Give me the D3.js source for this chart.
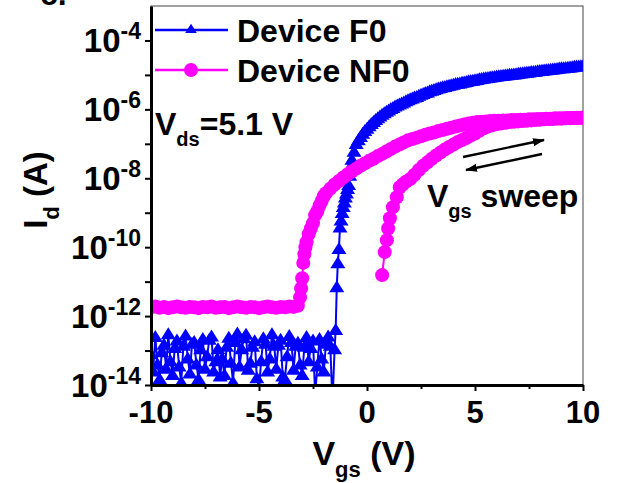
<!DOCTYPE html>
<html>
<head>
<meta charset="utf-8">
<script src="https://cdn.jsdelivr.net/npm/d3@7"></script>
<style>
  body { margin: 0; background: #fff; }
  svg { display: block; font-family: "Liberation Sans", Arial, sans-serif; font-weight: bold; }
</style>
</head>
<body>
<svg id="chart" width="628" height="483"></svg>
<script>
// ---- Transfer curves, Vds = 5.1 V ----
// Device F0 : gate voltage (V) and drain current (A)
const vgsF0 = [
  -10, -9.9, -9.8, -9.7, -9.6, -9.5, -9.4, -9.3, -9.2, -9.1,
  -9, -8.9, -8.8, -8.7, -8.6, -8.5, -8.4, -8.3, -8.2, -8.1,
  -8, -7.9, -7.8, -7.7, -7.6, -7.5, -7.4, -7.3, -7.2, -7.1,
  -7, -6.9, -6.8, -6.7, -6.6, -6.5, -6.4, -6.3, -6.2, -6.1,
  -6, -5.9, -5.8, -5.7, -5.6, -5.5, -5.4, -5.3, -5.2, -5.1,
  -5, -4.9, -4.8, -4.7, -4.6, -4.5, -4.4, -4.3, -4.2, -4.1,
  -4, -3.9, -3.8, -3.7, -3.6, -3.5, -3.4, -3.3, -3.2, -3.1,
  -3, -2.9, -2.8, -2.7, -2.6, -2.5, -2.4, -2.3, -2.2, -2.1,
  -2, -1.9, -1.8, -1.7, -1.6, -1.5,
  -1.45, -1.4, -1.35, -1.3, -1.25, -1.2, -1.15, -1.1, -1.05, -1, -0.95, -0.9, -0.85, -0.8,
  -0.75, -0.7, -0.6, -0.5, -0.4, -0.3, -0.2, -0.1,
  0, 0.1, 0.2, 0.3, 0.4, 0.5, 0.6, 0.7, 0.8, 0.9, 1, 1.1, 1.2, 1.3, 1.4, 1.5, 1.6, 1.7, 1.8, 1.9,
  2, 2.1, 2.2, 2.3, 2.4, 2.5, 2.6, 2.7, 2.8, 2.9, 3, 3.1, 3.2, 3.3, 3.4, 3.5, 3.6, 3.7, 3.8, 3.9,
  4, 4.1, 4.2, 4.3, 4.4, 4.5, 4.6, 4.7, 4.8, 4.9, 5, 5.1, 5.2, 5.3, 5.4, 5.5, 5.6, 5.7, 5.8, 5.9,
  6, 6.1, 6.2, 6.3, 6.4, 6.5, 6.6, 6.7, 6.8, 6.9, 7, 7.1, 7.2, 7.3, 7.4, 7.5, 7.6, 7.7, 7.8, 7.9,
  8, 8.1, 8.2, 8.3, 8.4, 8.5, 8.6, 8.7, 8.8, 8.9, 9, 9.1, 9.2, 9.3, 9.4, 9.5, 9.6, 9.7, 9.8, 9.9, 10
];
const idF0 = [
  8e-14, 2.5e-14, 2.5e-13, 4e-14, 1.5e-14, 9e-14, 1.5e-13, 3e-14, 3e-13, 5e-14,
  2e-14, 1.2e-13, 2e-13, 3.5e-14, 1.2e-14, 1.4e-13, 2.8e-13, 6e-14, 2.2e-14, 1.6e-13,
  1.8e-13, 4e-14, 1.5e-14, 1.1e-13, 2.2e-13, 3e-14, 7e-14, 2.1e-13, 2.6e-13, 2.5e-14,
  5e-14, 1.1e-13, 1.8e-14, 6e-14, 2e-14, 1.3e-13, 2.4e-13, 4.5e-14, 1.2e-14, 1.8e-13,
  3.2e-13, 3.5e-14, 1.1e-13, 2.3e-13, 2.9e-13, 2.8e-14, 4.5e-14, 1.3e-13, 1.9e-13, 1.6e-14,
  8e-15, 5e-14, 2.3e-13, 1.6e-13, 2.5e-14, 6e-14, 3e-13, 1.4e-13, 3e-14, 1.5e-13,
  2.1e-13, 1.8e-14, 1.5e-14, 7e-14, 2.7e-13, 1.8e-13, 2.8e-14, 1.4e-13, 1.7e-13, 4e-14,
  2e-14, 1.3e-13, 2.5e-13, 5e-14, 1.2e-13, 2e-13, 5e-15, 3.5e-14, 2.2e-13, 6e-14,
  2.5e-14, 1.6e-13, 2.6e-13, 1.4e-13, 3e-15, 1.1e-13,
  4e-13, 7e-12, 3.5e-11, 9e-11, 3.8e-10, 6e-10, 1e-9, 1.5e-9, 2e-9, 2.8e-9, 3.7e-9, 5e-9, 6.5e-9, 1.2e-8,
  2.2e-8, 3.5e-8, 6e-8, 1e-7, 1.3e-7, 1.6e-7, 2e-7, 2.4e-7,
  2.8e-7, 3.3e-7, 3.8e-7, 4.4e-7, 5e-7, 5.6e-7, 6.3e-7, 7.1e-7, 7.9e-7, 8.7e-7, 9.5e-7, 1.05e-6, 1.12e-6, 1.23e-6, 1.32e-6, 1.41e-6, 1.51e-6, 1.62e-6, 1.74e-6, 1.86e-6,
  2e-6, 2.09e-6, 2.24e-6, 2.34e-6, 2.51e-6, 2.69e-6, 2.82e-6, 3.02e-6, 3.16e-6, 3.39e-6, 3.55e-6, 3.72e-6, 3.89e-6, 4.07e-6, 4.27e-6, 4.47e-6, 4.57e-6, 4.79e-6, 4.9e-6, 5.13e-6,
  5.25e-6, 5.5e-6, 5.62e-6, 5.75e-6, 6.03e-6, 6.17e-6, 6.31e-6, 6.61e-6, 6.76e-6, 6.92e-6, 7.08e-6, 7.24e-6, 7.59e-6, 7.76e-6, 7.94e-6, 8.13e-6, 8.32e-6, 8.51e-6, 8.71e-6, 8.91e-6,
  9.12e-6, 9.33e-6, 9.4e-6, 9.55e-6, 9.77e-6, 1e-5, 1.02e-5, 1.03e-5, 1.05e-5, 1.07e-5, 1.1e-5, 1.12e-5, 1.13e-5, 1.15e-5, 1.17e-5, 1.2e-5, 1.23e-5, 1.24e-5, 1.26e-5, 1.29e-5,
  1.32e-5, 1.35e-5, 1.36e-5, 1.38e-5, 1.41e-5, 1.44e-5, 1.47e-5, 1.49e-5, 1.51e-5, 1.55e-5, 1.58e-5, 1.6e-5, 1.62e-5, 1.65e-5, 1.67e-5, 1.7e-5, 1.74e-5, 1.78e-5, 1.79e-5, 1.82e-5, 1.84e-5
];

// Device NF0, forward sweep (-10 V -> 10 V)
const vgsNF0Fwd = [
  -10, -9.8, -9.6, -9.4, -9.2, -9, -8.8, -8.6, -8.4, -8.2, -8, -7.8, -7.6, -7.4, -7.2, -7, -6.8, -6.6,
  -6.4, -6.2, -6, -5.8, -5.6, -5.4, -5.2, -5, -4.8, -4.6, -4.4, -4.2, -4, -3.8, -3.6, -3.4, -3.2,
  -3.1, -3.05, -3, -2.95, -2.9, -2.85, -2.8, -2.7, -2.6, -2.5, -2.4, -2.3, -2.2, -2.1, -2, -1.9,
  -1.7, -1.5, -1.3, -1.1, -0.9, -0.7, -0.5, -0.3, -0.1, 0.1, 0.3, 0.5, 0.7, 0.9, 1.1, 1.3, 1.5, 1.7, 1.9,
  2.1, 2.3, 2.5, 2.7, 2.9, 3.1, 3.3, 3.5, 3.7, 3.9, 4.1, 4.3, 4.5, 4.7, 4.9, 5.1, 5.3, 5.5, 5.7, 5.9,
  6.1, 6.3, 6.5, 6.7, 6.9, 7.1, 7.3, 7.5, 7.7, 7.9, 8.1, 8.3, 8.5, 8.7, 8.9, 9.1, 9.3, 9.5, 9.7, 9.9, 10
];
const idNF0Fwd = [
  1.8e-12, 1.9e-12, 1.75e-12, 1.85e-12, 1.7e-12, 1.8e-12, 1.9e-12, 1.8e-12, 1.75e-12, 1.85e-12, 1.8e-12, 1.7e-12, 1.85e-12, 1.8e-12, 1.9e-12, 1.75e-12, 1.8e-12, 1.85e-12,
  1.7e-12, 1.8e-12, 1.9e-12, 1.8e-12, 1.75e-12, 1.85e-12, 1.8e-12, 1.7e-12, 1.8e-12, 1.9e-12, 1.8e-12, 1.75e-12, 1.85e-12, 1.8e-12, 1.9e-12, 1.85e-12, 2e-12,
  3.5e-12, 6.3e-12, 1.26e-11, 3.5e-11, 6.3e-11, 1e-10, 1.4e-10, 2.4e-10, 3.5e-10, 5e-10, 8.5e-10, 1.1e-9, 1.6e-9, 2.2e-9, 3e-9, 3.7e-9,
  5e-9, 6.6e-9, 8.3e-9, 1.05e-8, 1.3e-8, 1.6e-8, 1.9e-8, 2.3e-8, 2.7e-8, 3.2e-8, 3.7e-8, 4.4e-8, 5.1e-8, 6e-8, 7.1e-8, 8.3e-8, 9.5e-8, 1.1e-7, 1.26e-7,
  1.38e-7, 1.51e-7, 1.66e-7, 1.82e-7, 2e-7, 2.14e-7, 2.34e-7, 2.51e-7, 2.75e-7, 2.95e-7, 3.16e-7, 3.39e-7, 3.63e-7, 3.89e-7, 4.07e-7, 4.27e-7, 4.37e-7, 4.47e-7, 4.57e-7, 4.68e-7,
  4.68e-7, 4.79e-7, 4.79e-7, 4.9e-7, 4.9e-7, 5e-7, 5e-7, 5.13e-7, 5.13e-7, 5.25e-7, 5.25e-7, 5.37e-7, 5.37e-7, 5.5e-7, 5.5e-7, 5.5e-7, 5.62e-7, 5.62e-7, 5.75e-7, 5.75e-7, 5.75e-7
];

// Device NF0, reverse sweep (10 V -> 0.7 V)
const vgsNF0Rev = [
  10, 9.8, 9.6, 9.4, 9.2, 9, 8.8, 8.6, 8.4, 8.2, 8, 7.8, 7.6, 7.4, 7.2, 7, 6.8, 6.6, 6.4, 6.2,
  6, 5.8, 5.6, 5.4, 5.2, 5, 4.8, 4.6, 4.4, 4.2, 4, 3.8, 3.6, 3.4, 3.2, 3, 2.8, 2.6, 2.4, 2.2,
  2, 1.8, 1.65, 1.52, 1.38, 1.2, 1.06, 0.98, 0.92, 0.82, 0.7
];
const idNF0Rev = [
  5.75e-7, 5.62e-7, 5.62e-7, 5.5e-7, 5.5e-7, 5.37e-7, 5.37e-7, 5.25e-7, 5.25e-7, 5.13e-7, 5e-7, 4.9e-7, 4.79e-7, 4.68e-7, 4.57e-7, 4.47e-7, 4.37e-7, 4.27e-7, 4.07e-7, 3.89e-7,
  3.72e-7, 3.47e-7, 3.16e-7, 2.82e-7, 2.4e-7, 2e-7, 1.74e-7, 1.48e-7, 1.29e-7, 1.12e-7, 9.5e-8, 8.1e-8, 6.8e-8, 5.6e-8, 4.6e-8, 3.7e-8, 2.9e-8, 2.3e-8, 1.74e-8, 1.26e-8,
  9.5e-9, 7.9e-9, 6.6e-9, 5.5e-9, 2.8e-9, 1.45e-9, 6.9e-10, 3.5e-10, 1.6e-10, 7.2e-11, 1.55e-11
];

// Axis ticks
const xMajorTicks = [-10, -5, 0, 5, 10];
const xMinorTicks = [-7.5, -2.5, 2.5, 7.5];
const yDecadeTicks = [1e-14, 1e-13, 1e-12, 1e-11, 1e-10, 1e-9, 1e-8, 1e-7, 1e-6, 1e-5, 1e-4];
const yLabelExponents = [-14, -12, -10, -8, -6, -4];

const seriesNames = ["Device F0", "Device NF0"];
const seriesColors = ["#0000ff", "#ff00ff"];

// ---- Layout ----
const svg = d3.select("#chart");
const plotL = 151, plotR = 583, plotT = 6, plotB = 385;

const x = d3.scaleLinear().domain([-10, 10]).range([plotL, plotR]);
const y = d3.scaleLog().domain([1e-14, 1e-3]).range([plotB, plotT]);

// panel letter, mostly cut off at the top edge
svg.append("text").attr("x", 40).attr("y", 5).attr("font-size", 32).text("c.");

// thin frame on top and right
svg.append("rect")
  .attr("x", plotL).attr("y", plotT).attr("width", plotR - plotL).attr("height", plotB - plotT)
  .attr("fill", "none").attr("stroke", "#444").attr("stroke-width", 1);

const defs = svg.append("defs");
defs.append("clipPath").attr("id", "plotClip")
  .append("rect").attr("x", plotL).attr("y", plotT).attr("width", plotR - plotL).attr("height", plotB - plotT);

const plot = svg.append("g").attr("clip-path", "url(#plotClip)");

const toPoints = (vs, is) => vs.map((v, i) => ({ v, i: is[i] }));
const f0 = toPoints(vgsF0, idF0);
const nf0 = toPoints(vgsNF0Fwd, idNF0Fwd).concat(toPoints(vgsNF0Rev, idNF0Rev));

const line = d3.line().x(d => x(d.v)).y(d => y(d.i));

// "up" triangle as a custom d3 symbol type; size = half of the base width
const wideTriangle = {
  draw(ctx, s) {
    ctx.moveTo(0, -s * 0.9);
    ctx.lineTo(s, s * 0.7);
    ctx.lineTo(-s, s * 0.7);
    ctx.closePath();
  }
};
const tri = d3.symbol().type(wideTriangle).size(7.5);
const triLegend = d3.symbol().type(wideTriangle).size(5.8);
const dotR = 7;

// Device F0: line + triangles
plot.append("path").datum(f0).attr("d", line)
  .attr("fill", "none").attr("stroke", seriesColors[0]).attr("stroke-width", 2);
plot.append("g").selectAll("path").data(f0).join("path")
  .attr("d", tri).attr("transform", d => `translate(${x(d.v)},${y(d.i)})`)
  .attr("fill", seriesColors[0]);

// Device NF0: line + circles
plot.append("path").datum(nf0).attr("d", line)
  .attr("fill", "none").attr("stroke", seriesColors[1]).attr("stroke-width", 2);
plot.append("g").selectAll("circle").data(nf0).join("circle")
  .attr("cx", d => x(d.v)).attr("cy", d => y(d.i)).attr("r", dotR)
  .attr("fill", seriesColors[1]);

// ---- Axes ----
svg.append("g").attr("transform", `translate(0,${plotB})`)
  .call(d3.axisBottom(x).tickValues(xMajorTicks).tickSize(6).tickSizeOuter(0).tickFormat(""));
svg.append("g").attr("transform", `translate(0,${plotB})`)
  .call(d3.axisBottom(x).tickValues(xMinorTicks).tickSize(4).tickSizeOuter(0).tickFormat(""))
  .select(".domain").remove();
svg.append("g").attr("transform", `translate(${plotL},0)`)
  .call(d3.axisLeft(y).tickValues(yDecadeTicks).tickSize(6).tickSizeOuter(0).tickFormat(""));

svg.selectAll(".domain").attr("stroke", "#000").attr("stroke-width", 3);
svg.selectAll(".tick line").attr("stroke", "#000").attr("stroke-width", 2);

// x tick labels
svg.append("g").selectAll("text").data(xMajorTicks).join("text")
  .attr("x", d => x(d)).attr("y", 423).attr("text-anchor", "middle")
  .attr("font-size", 31).text(d => String(d));

// y tick labels: 10 with superscript exponent
const yl = svg.append("g").selectAll("text").data(yLabelExponents).join("text")
  .attr("x", 141).attr("y", d => y(Math.pow(10, d)) + 12).attr("text-anchor", "end")
  .attr("font-size", 33);
yl.append("tspan").text("10");
yl.append("tspan").attr("dy", -13).attr("font-size", 23).text(d => String(d));

// axis titles
const xt = svg.append("text").attr("x", 364).attr("y", 465).attr("text-anchor", "middle").attr("font-size", 34);
xt.append("tspan").text("V");
xt.append("tspan").attr("dy", 12).attr("font-size", 22).text("gs");
xt.append("tspan").attr("dy", -12).text(" (V)");

const yt = svg.append("text").attr("transform", "translate(47,190) rotate(-90)")
  .attr("text-anchor", "middle").attr("font-size", 33);
yt.append("tspan").text("I");
yt.append("tspan").attr("dy", 12).attr("font-size", 22).text("d");
yt.append("tspan").attr("dy", -12).text(" (A)");

// ---- Legend ----
const legend = svg.append("g");
[0, 1].forEach(k => {
  const ly = k === 0 ? 30 : 70;
  legend.append("line").attr("x1", 155).attr("x2", 228).attr("y1", ly).attr("y2", ly)
    .attr("stroke", seriesColors[k]).attr("stroke-width", 2.5);
  if (k === 0) {
    legend.append("path").attr("d", triLegend).attr("transform", `translate(191,${ly - 1})`).attr("fill", seriesColors[k]);
  } else {
    legend.append("circle").attr("cx", 191).attr("cy", ly).attr("r", dotR).attr("fill", seriesColors[k]);
  }
  legend.append("text").attr("x", 237).attr("y", ly + 12).attr("font-size", 32).text(seriesNames[k]);
});

// ---- Annotations ----
const vds = svg.append("text").attr("x", 155).attr("y", 135).attr("font-size", 32);
vds.append("tspan").text("V");
vds.append("tspan").attr("dy", 11).attr("font-size", 20).text("ds");
vds.append("tspan").attr("dy", -11).text("=5.1 V");

const sweep = svg.append("text").attr("x", 427).attr("y", 207).attr("font-size", 32);
sweep.append("tspan").text("V");
sweep.append("tspan").attr("dy", 11).attr("font-size", 20).text("gs");
sweep.append("tspan").attr("dy", -11).text(" sweep");

defs.append("marker").attr("id", "head")
  .attr("viewBox", "0 0 12 8").attr("refX", 11).attr("refY", 4)
  .attr("markerWidth", 12).attr("markerHeight", 8).attr("markerUnits", "userSpaceOnUse")
  .attr("orient", "auto")
  .append("path").attr("d", "M0,0 L12,4 L0,8 Z").attr("fill", "#000");

svg.append("line").attr("x1", 463).attr("y1", 157).attr("x2", 544).attr("y2", 140)
  .attr("stroke", "#000").attr("stroke-width", 2.4).attr("marker-end", "url(#head)");
svg.append("line").attr("x1", 542).attr("y1", 154).attr("x2", 466).attr("y2", 170)
  .attr("stroke", "#000").attr("stroke-width", 2.4).attr("marker-end", "url(#head)");
</script>
</body>
</html>
